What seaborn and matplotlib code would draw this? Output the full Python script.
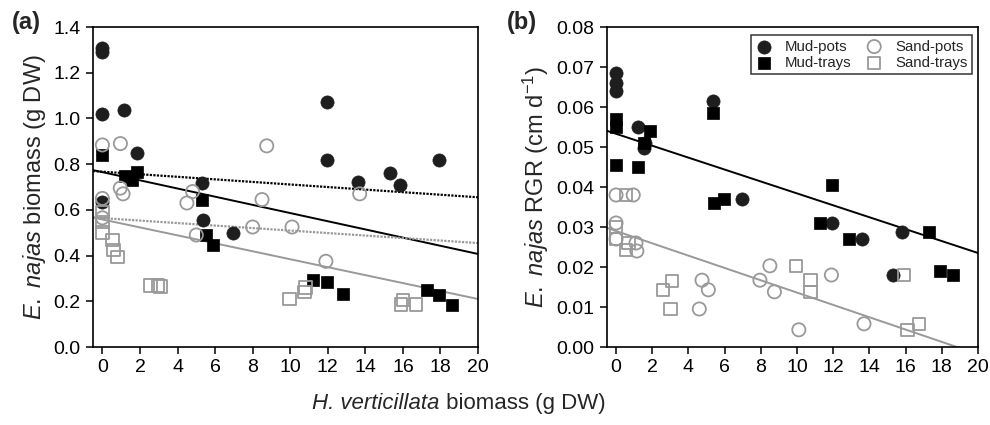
import numpy as np
import pandas as pd
import seaborn as sns
import matplotlib
matplotlib.use("Agg")
import matplotlib.pyplot as plt

# ---------------- data ----------------
# Panel (a): E. najas biomass (g DW) vs H. verticillata biomass (g DW)
a_mud_pots_x = [0, 0, 0, 0, 1.15, 1.85, 5.3, 5.37, 6.97, 11.95, 11.95, 13.6, 15.3, 15.85, 17.9]
a_mud_pots_y = [1.31, 1.29, 1.02, 0.635, 1.035, 0.85, 0.717, 0.555, 0.50, 1.07, 0.82, 0.72, 0.76, 0.71, 0.82]
a_mud_trays_x = [0, 1.22, 1.55, 1.85, 5.3, 5.5, 5.9, 11.24, 11.95, 12.8, 17.3, 17.9, 18.6]
a_mud_trays_y = [0.84, 0.75, 0.73, 0.765, 0.645, 0.49, 0.445, 0.293, 0.286, 0.23, 0.249, 0.227, 0.184]
a_sand_pots_x = [0, 0, 0, 0.96, 0.95, 1.1, 4.5, 4.8, 5.0, 8.75, 8.5, 8.0, 10.1, 11.9, 13.7]
a_sand_pots_y = [0.884, 0.65, 0.565, 0.89, 0.695, 0.67, 0.63, 0.68, 0.49, 0.88, 0.645, 0.525, 0.525, 0.375, 0.67]
a_sand_trays_x = [0, 0, 0, 0.53, 0.6, 0.8, 2.55, 2.95, 3.1, 9.95, 10.75, 10.8, 15.9, 16.0, 16.7]
a_sand_trays_y = [0.59, 0.547, 0.50, 0.468, 0.425, 0.394, 0.27, 0.27, 0.265, 0.21, 0.24, 0.26, 0.185, 0.205, 0.185]

# Panel (b): E. najas RGR (cm d-1)
b_mud_pots_x = [0, 0, 0, 1.2, 1.55, 1.6, 5.35, 6.95, 11.95, 13.6, 15.8, 15.3]
b_mud_pots_y = [0.0685, 0.066, 0.064, 0.055, 0.0497, 0.051, 0.0615, 0.037, 0.031, 0.027, 0.0288, 0.018]
b_mud_trays_x = [0, 0, 0, 1.2, 1.55, 1.9, 5.35, 5.4, 5.95, 11.95, 11.25, 12.85, 17.3, 17.9, 18.6]
b_mud_trays_y = [0.057, 0.055, 0.0455, 0.045, 0.051, 0.054, 0.0585, 0.036, 0.037, 0.0405, 0.031, 0.027, 0.0288, 0.019, 0.018]
b_sand_pots_x = [0, 0.95, 0, 0, 1.1, 1.15, 4.75, 5.1, 4.6, 7.95, 8.5, 8.75, 10.1, 11.9, 13.7]
b_sand_pots_y = [0.038, 0.038, 0.031, 0.027, 0.026, 0.024, 0.0167, 0.0143, 0.0095, 0.0167, 0.0203, 0.0138, 0.0043, 0.018, 0.0058]
b_sand_trays_x = [0, 0, 0.55, 0.55, 0.7, 2.6, 3.1, 3.0, 9.95, 10.75, 10.75, 15.9, 16.1, 16.75]
b_sand_trays_y = [0.030, 0.027, 0.0243, 0.038, 0.026, 0.0143, 0.0165, 0.0095, 0.0203, 0.0168, 0.0138, 0.018, 0.0043, 0.0058]

# regression lines (intercept, slope)
a_lines = {
    "mud_solid": (0.765, -0.0179),
    "mud_dotted": (0.767, -0.0056),
    "sand_solid": (0.558, -0.0174),
    "sand_dotted": (0.564, -0.00546),
}
b_lines = {
    "mud_solid": (0.0533, -0.00149),
    "sand_solid": (0.0290, -0.00154),
}

groups = ["Mud-pots", "Mud-trays", "Sand-pots", "Sand-trays"]
x_ticks = list(range(0, 21, 2))
a_yticks = [0.0, 0.2, 0.4, 0.6, 0.8, 1.0, 1.2, 1.4]
b_yticks = [0.00, 0.01, 0.02, 0.03, 0.04, 0.05, 0.06, 0.07, 0.08]

# ---------------- style ----------------
sns.set_style("ticks")
plt.rcParams["font.family"] = ["Liberation Sans", "DejaVu Sans"]
plt.rcParams["mathtext.fontset"] = "custom"
plt.rcParams["mathtext.rm"] = "Liberation Sans"
plt.rcParams["mathtext.it"] = "Liberation Sans:italic"
plt.rcParams["mathtext.bf"] = "Liberation Sans:bold"

GREY = "#999999"
styles = {
    "Mud-pots": dict(marker="o", s=90, color="#1e1e1e", edgecolor="#1e1e1e", linewidth=0.5),
    "Mud-trays": dict(marker="s", s=82, color="#000000", edgecolor="#000000", linewidth=0.5),
    "Sand-pots": dict(marker="o", s=90, facecolor="none", edgecolor=GREY, linewidth=1.3),
    "Sand-trays": dict(marker="s", s=82, facecolor="none", edgecolor=GREY, linewidth=1.3),
}

def make_df(xs, ys):
    rows = []
    for g, x, y in zip(groups, xs, ys):
        rows.append(pd.DataFrame({"x": x, "y": y, "group": g}))
    return pd.concat(rows, ignore_index=True)

df_a = make_df([a_mud_pots_x, a_mud_trays_x, a_sand_pots_x, a_sand_trays_x],
               [a_mud_pots_y, a_mud_trays_y, a_sand_pots_y, a_sand_trays_y])
df_b = make_df([b_mud_pots_x, b_mud_trays_x, b_sand_pots_x, b_sand_trays_x],
               [b_mud_pots_y, b_mud_trays_y, b_sand_pots_y, b_sand_trays_y])

fig = plt.figure(figsize=(9.9, 4.25), dpi=100)
ax_a = fig.add_axes([93 / 990, 78 / 425, (478 - 93) / 990, 320 / 425])
ax_b = fig.add_axes([607 / 990, 78 / 425, (978 - 607) / 990, 320 / 425])

XLIM = (-0.5, 20)
line_x = np.array(XLIM)

line_styles = {
    "mud_solid": dict(color="black", linewidth=1.4, linestyle="-"),
    "mud_dotted": dict(color="black", linewidth=1.6, linestyle=(0, (1, 0.6))),
    "sand_solid": dict(color=GREY, linewidth=1.4, linestyle="-"),
    "sand_dotted": dict(color=GREY, linewidth=1.6, linestyle=(0, (1, 0.6))),
}

for ax, df, lines in [(ax_a, df_a, a_lines), (ax_b, df_b, b_lines)]:
    for name, (b0, b1) in lines.items():
        sns.lineplot(x=line_x, y=b0 + b1 * line_x, ax=ax, zorder=2, **line_styles[name])
    for g in groups:
        sub = df[df["group"] == g]
        sns.scatterplot(data=sub, x="x", y="y", ax=ax, label=g, legend=False,
                        zorder=3, **styles[g])
    ax.set_xlim(*XLIM)
    ax.set_xticks(x_ticks)
    ax.set_xlabel("")
    for sp in ax.spines.values():
        sp.set_visible(True)
        sp.set_linewidth(1.2)
        sp.set_color("black")
    ax.tick_params(direction="out", length=5, width=1.1, labelsize=14, pad=4, colors="black")

ax_a.set_ylim(0, 1.4)
ax_a.set_yticks(a_yticks)
ax_a.set_yticklabels([f"{v:.1f}" for v in a_yticks])
ax_a.set_ylabel(r"$\mathit{E.}$ $\mathit{najas}$ biomass (g DW)", fontsize=17, labelpad=4)

ax_b.set_ylim(0, 0.08)
ax_b.set_yticks(b_yticks)
ax_b.set_yticklabels([f"{v:.2f}" for v in b_yticks])
ax_b.set_ylabel(r"$\mathit{E.}$ $\mathit{najas}$ RGR (cm d$^{\mathregular{-1}}$)", fontsize=17, labelpad=4)

leg_a = ax_a.get_legend()
if leg_a is not None:
    leg_a.remove()
leg = ax_b.legend(ncol=2, loc="upper right", bbox_to_anchor=(0.984, 0.975),
                  borderaxespad=0, fontsize=10.8, frameon=True, fancybox=False,
                  handletextpad=0.8, columnspacing=0.9, labelspacing=0.15,
                  borderpad=0.3, handlelength=1.2, markerscale=1.0)
leg.get_frame().set_edgecolor("black")
leg.get_frame().set_linewidth(1.1)

fig.text(12 / 990, 1 - 22 / 425, "(a)", fontsize=17, fontweight="bold", va="center", ha="left")
fig.text(507 / 990, 1 - 22 / 425, "(b)", fontsize=17, fontweight="bold", va="center", ha="left")

# x label: italic genus part + regular part, placed side by side and centred
fig.canvas.draw()
renderer = fig.canvas.get_renderer()
base_y = 1 - 409 / 425
t_it = fig.text(0, base_y, "H. verticillata", fontsize=16, fontstyle="italic",
                ha="left", va="baseline")
t_rm = fig.text(0, base_y, " biomass (g DW)", fontsize=16, ha="left", va="baseline")
w_it = t_it.get_window_extent(renderer).width
w_rm = t_rm.get_window_extent(renderer).width
start = 459 - (w_it + w_rm) / 2
t_it.set_x(start / 990)
t_rm.set_x((start + w_it) / 990)

fig.savefig("out.png", dpi=100)
